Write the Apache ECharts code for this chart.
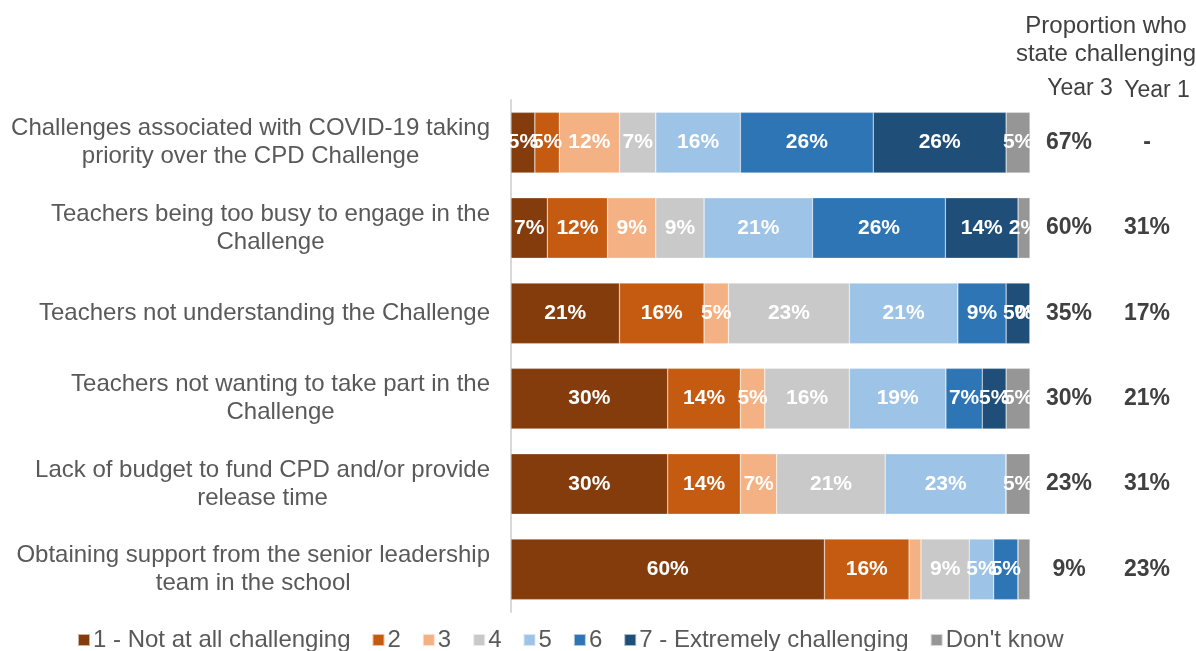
<!DOCTYPE html>
<html>
<head>
<meta charset="utf-8">
<script src="https://cdn.jsdelivr.net/npm/echarts@6/dist/echarts.min.js"></script>
<style>html,body{margin:0;padding:0;background:#fff;}#c{width:1196px;height:651px;}</style>
</head>
<body>
<div id="c"></div>
<script>
const categories = [
  "Challenges associated with COVID-19 taking\npriority over the CPD Challenge",
  "Teachers being too busy to engage in the\nChallenge",
  "Teachers not understanding the Challenge",
  "Teachers not wanting to take part in the\nChallenge",
  "Lack of budget to fund CPD and/or provide\nrelease time",
  "Obtaining support from the senior leadership\nteam in the school"
];
const seriesNames = ["1 - Not at all challenging", "2", "3", "4", "5", "6", "7 - Extremely challenging", "Don't know"];
const s1 = [4.6, 7.0, 20.9, 30.2, 30.2, 60.4];
const s2 = [4.7, 11.6, 16.3, 14.0, 14.0, 16.3];
const s3 = [11.6, 9.3, 4.7, 4.7, 7.0, 2.3];
const s4 = [7.0, 9.3, 23.3, 16.3, 20.9, 9.3];
const s5 = [16.3, 20.9, 20.9, 18.6, 23.3, 4.7];
const s6 = [25.6, 25.6, 9.3, 7.0, 0, 4.7];
const s7 = [25.6, 14.0, 4.6, 4.6, 0, 0];
const sDK = [4.6, 2.3, 0, 4.6, 4.6, 2.3];
const year3 = ["67%", "60%", "35%", "30%", "23%", "9%"];
const year1 = ["-", "31%", "17%", "21%", "31%", "23%"];
const hiddenLabels = [[4, 5], [4, 6], [5, 2], [5, 6], [5, 7]]; // [row, series]

const colors = ["#843C0C", "#C55A11", "#F4B183", "#C9C9C9", "#9DC3E6", "#2E75B6", "#1F4E79", "#969696"];
const allSeries = [s1, s2, s3, s4, s5, s6, s7, sDK];
const FONT = "'Liberation Sans', Arial, sans-serif";

const chart = echarts.init(document.getElementById('c'), null, {renderer: 'canvas'});

const series = allSeries.map((arr, si) => ({
  name: seriesNames[si],
  type: 'bar',
  stack: 'total',
  barWidth: '71%',
  data: arr,
  itemStyle: {color: colors[si], borderColor: 'rgba(255,255,255,0.6)', borderWidth: 0.5},
  label: {
    show: true,
    position: 'inside',
    color: '#fff',
    fontWeight: 'bold',
    fontSize: 21,
    fontFamily: FONT,
    formatter: p => hiddenLabels.some(h => h[0] === p.dataIndex && h[1] === si) ? '' : Math.round(p.value) + '%'
  },
  emphasis: {disabled: true}
}));

const option = {
  animation: false,
  textStyle: {fontFamily: FONT},
  grid: {left: 511, right: 166, top: 100, bottom: 39},
  xAxis: {type: 'value', min: 0, max: 100, show: false},
  yAxis: [
    {
      type: 'category',
      data: categories,
      inverse: true,
      axisLine: {show: true, lineStyle: {color: '#d9d9d9', width: 2}},
      axisTick: {show: false},
      axisLabel: {
        margin: 21,
        color: '#595959',
        fontSize: 24,
        fontFamily: FONT,
        formatter: v => v.split('\n').map(l => '{c|' + l + '}').join('\n'),
        rich: {c: {align: 'center', fontSize: 24, lineHeight: 28, color: '#595959', fontFamily: FONT}}
      }
    },
    {
      type: 'category',
      data: categories,
      inverse: true,
      position: 'right',
      axisLine: {show: false},
      axisTick: {show: false},
      axisLabel: {
        margin: 0,
        formatter: (v, i) => '{a|' + year3[i] + '}{b|' + year1[i] + '}',
        rich: {
          a: {width: 78, align: 'center', fontSize: 23, fontWeight: 'bold', color: '#404040', fontFamily: FONT},
          b: {width: 78, align: 'center', fontSize: 23, fontWeight: 'bold', color: '#404040', fontFamily: FONT}
        }
      }
    }
  ],
  legend: {
    data: seriesNames,
    top: 623,
    left: 72,
    itemWidth: 12,
    itemHeight: 12,
    itemGap: 21,
    icon: 'rect',
    textStyle: {color: '#595959', fontSize: 24, fontFamily: FONT, padding: [0, 0, 0, -2]}
  },
  graphic: [
    {type: 'text', x: 1106, y: 12, style: {text: 'Proportion who\nstate challenging', fill: '#404040', font: '24px ' + FONT, textAlign: 'center', lineHeight: 28}},
    {type: 'text', x: 1080, y: 77, style: {text: 'Year 3', fill: '#404040', font: '23px ' + FONT, textAlign: 'center'}},
    {type: 'text', x: 1157, y: 79, style: {text: 'Year 1', fill: '#404040', font: '23px ' + FONT, textAlign: 'center'}}
  ],
  series: series
};
chart.setOption(option);
</script>
</body>
</html>
